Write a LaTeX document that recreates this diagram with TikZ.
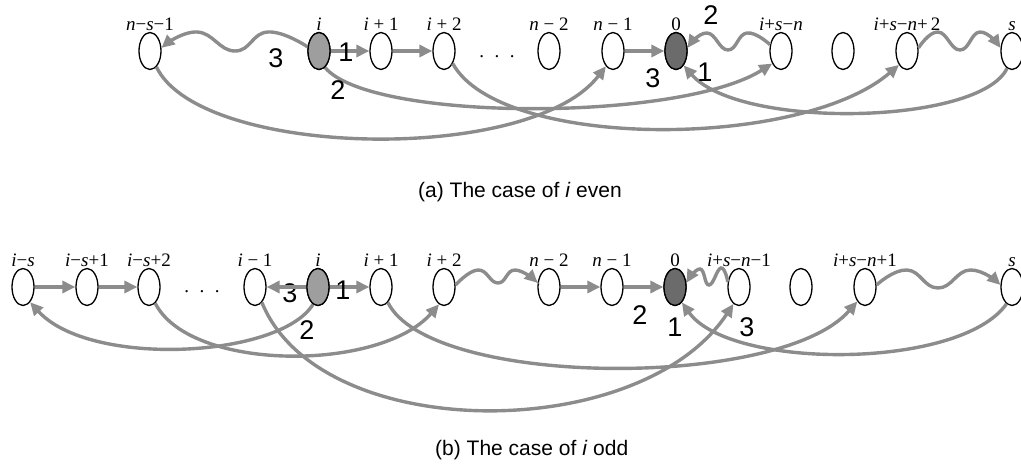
\documentclass[tikz,border=0pt]{standalone}
\usepackage{fontspec}
\setsansfont{Liberation Sans}
\newfontfamily\tms{Liberation Serif}
\usetikzlibrary{shapes.geometric,arrows.meta}
\tikzset{
  st/.style={ellipse, draw=black, line width=1.3pt, minimum width=22pt, minimum height=37pt, inner sep=0pt, fill=white},
  cur/.style={st, fill=black!38},
  zero/.style={st, fill=black!58},
  arr/.style={draw=black!45, line width=3.4pt, -{Triangle[length=13pt,width=12pt]}},
  lab/.style={font=\tms\fontsize{19}{19}\selectfont, inner sep=1pt},
  num/.style={font=\sffamily\fontsize{27}{27}\selectfont, inner sep=0pt},
  captxt/.style={font=\sffamily\fontsize{21}{21}\selectfont, inner sep=0pt, anchor=west},
  dts/.style={font=\tms\fontsize{19}{19}\selectfont, inner sep=0pt}
}
\newcommand{\dotsrow}{.\hspace{0.55em}.\hspace{0.55em}.}
\newcommand{\vv}[1]{\textit{#1}}
\begin{document}
\begin{tikzpicture}[x=1pt,y=-1pt, label distance=0pt]
\useasboundingbox (0,0) rectangle (1021,465);
% ---------- top row ----------
\node[st,  label={[lab]above:\vv{n}−\vv{s}−1}] (nsm1) at (150,51) {};
\node[cur, label={[lab]above:\vv{i}}] (ti) at (319,51) {};
\node[st,  label={[lab]above:\vv{i} + 1}] (tip1) at (381,51) {};
\node[st,  label={[lab]above:\vv{i} + 2}] (ti2) at (444,51) {};
\node[dts] (tdots) at (497,57) {\dotsrow};
\node[st,  label={[lab]above:\vv{n} − 2}] (tn2) at (549,51) {};
\node[st,  label={[lab]above:\vv{n} − 1}] (tnm1) at (613,51) {};
\node[zero,label={[lab]above:0}] (tz) at (676,51) {};
\node[st,  label={[lab]above:\vv{i}+\vv{s}−\vv{n}}] (tisn) at (781,51) {};
\node[st] (tbl) at (843,51) {};
\node[st,  label={[lab]above:\vv{i}+\vv{s}−\vv{n}+\,2}] (tisn2) at (907,51) {};
\node[st,  label={[lab]above:\vv{s}}] (ts) at (1012,51) {};
% ---------- bottom row ----------
\node[st,  label={[lab]above:\vv{i}−\vv{s}}] (bis) at (23,287) {};
\node[st,  label={[lab]above:\vv{i}−\vv{s}+1}] (bis1) at (87,287) {};
\node[st,  label={[lab]above:\vv{i}−\vv{s}+2}] (bis2) at (149,287) {};
\node[dts] (bdots) at (202,292) {\dotsrow};
\node[st,  label={[lab]above:\vv{i} − 1}] (bim1) at (255,287) {};
\node[num] (b3a) at (290,293) {3};
\node[cur, label={[lab]above:\vv{i}}] (bi) at (318,287) {};
\node[st,  label={[lab]above:\vv{i} + 1}] (bip1) at (381,287) {};
\node[st,  label={[lab]above:\vv{i} + 2}] (bi2) at (444,287) {};
\node[st,  label={[lab]above:\vv{n} − 2}] (bn2) at (549,287) {};
\node[st,  label={[lab]above:\vv{n} − 1}] (bnm1) at (612,287) {};
\node[zero,label={[lab]above:0}] (bz) at (675,287) {};
\node[st,  label={[lab]above:\vv{i}+\vv{s}−\vv{n}−1}] (bisn1) at (739,287) {};
\node[st] (bbl) at (801,287) {};
\node[st,  label={[lab]above:\vv{i}+\vv{s}−\vv{n}+1}] (bisnp1) at (865,287) {};
\node[st,  label={[lab]above:\vv{s}}] (bs) at (1012,287) {};
% ---------- top arrows ----------
\draw[arr] (ti) -- (tip1);
\draw[arr] (tip1) -- (ti2);
\draw[arr] (tnm1) -- (tz);
\draw[arr] plot[smooth, tension=0.8] coordinates {(ti.160) (268,32) (235,51) (197,32) (nsm1.15)};
\draw[arr] plot[smooth, tension=0.8] coordinates {(tisn.150) (747,33) (728,50) (707,33) (tz.15)};
\draw[arr] plot[smooth, tension=0.8] coordinates {(tisn2.15) (938,32) (960,50) (980,32) (ts.165)};
\draw[arr] (ti.-70) .. controls (370,122) and (680,122) .. (tisn.-125);
\draw[arr] (nsm1.-68) .. controls (200,158) and (530,165) .. (tnm1.-115);
\draw[arr] (ti2.-55) .. controls (500,150) and (800,150) .. (tisn2.-120);
\draw[arr] (ts.-106) .. controls (980,125) and (740,130) .. (tz.-62);
% ---------- bottom arrows ----------
\draw[arr] (bis) -- (bis1);
\draw[arr] (bis1) -- (bis2);
\draw[arr] (bi) -- (bim1);
\draw[arr] (bi) -- (bip1);
\draw[arr] (bn2) -- (bnm1);
\draw[arr] (bnm1) -- (bz);
\draw[arr] plot[smooth, tension=0.8] coordinates {(bi2.10) (478,270) (498,283) (515,270) (bn2.160)};
\draw[arr] plot[smooth, tension=0.8] coordinates {(bisn1.155) (721,268) (709,285) (700,269) (bz.20)};
\draw[arr] plot[smooth, tension=0.8] coordinates {(bisnp1.10) (907,270) (938,288) (970,270) (bs.170)};
\draw[arr] (bi.-106) .. controls (280,358) and (90,368) .. (bis.-65);
\draw[arr] (bis2.-69) .. controls (190,372) and (380,372) .. (bi2.-106);
\draw[arr] (bim1.-66) .. controls (320,445) and (640,445) .. (bisn1.-108);
\draw[arr] (bip1.-66) .. controls (430,388) and (780,390) .. (bisnp1.-118);
\draw[arr] (bs.-108) .. controls (960,370) and (730,370) .. (bz.-66);
% redraw filled nodes on top
\node[cur] at (ti) {};
\node[zero] at (tz) {};
\node[cur] at (bi) {};
\node[zero] at (bz) {};
% ---------- numbers ----------
\node[num] (t3a) at (276,58) {3};
\node[num] (t1a) at (346,52) {1};
\node[num] (t2a) at (338,90) {2};
\node[num] (t3b) at (653,78) {3};
\node[num] (t1b) at (705,72) {1};
\node[num] (t2b) at (711,15) {2};
\node[num] (b1a) at (343,290) {1};
\node[num] (b2a) at (307,330) {2};
\node[num] (b2b) at (640,315) {2};
\node[num] (b1b) at (675,327) {1};
\node[num] (b3b) at (747,327) {3};
% ---------- captions ----------
\node[captxt] (capa) at (418,192) {(a) The case of \textit{i} even};
\node[captxt] (capb) at (435,450) {(b) The case of \textit{i} odd};
\end{tikzpicture}
\end{document}
